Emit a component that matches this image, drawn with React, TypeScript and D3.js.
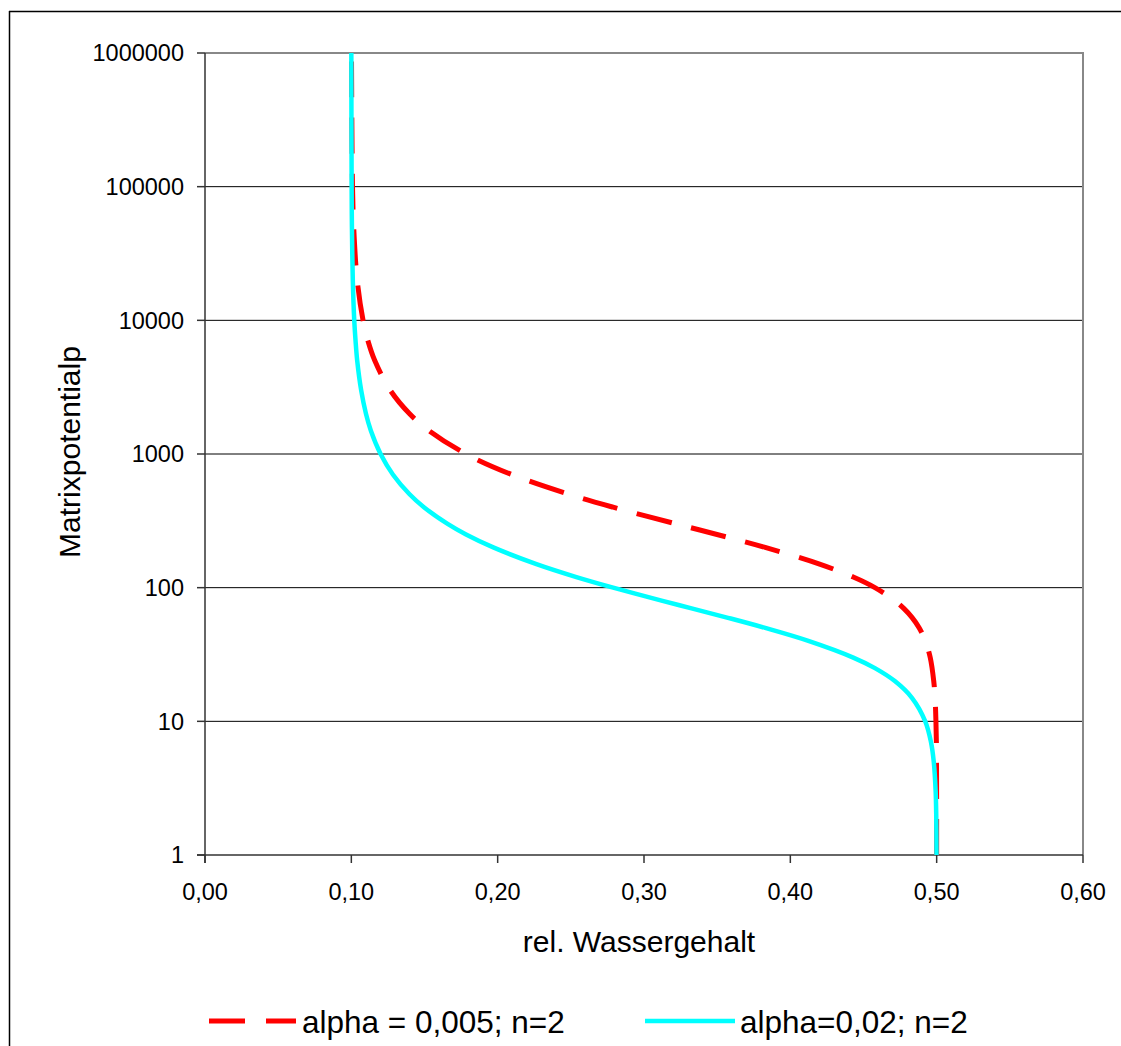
import React from "react";
import * as d3 from "d3";

const yTicks = [1, 10, 100, 1000, 10000, 100000, 1000000];
const xTicks = [0, 0.1, 0.2, 0.3, 0.4, 0.5, 0.6];

const redLabel = "alpha = 0,005; n=2";
const redH = [1, 2, 3, 5, 7, 10, 15, 20, 30, 40, 50, 60, 70, 80, 100, 120, 150, 200, 250, 300, 400, 500, 700, 1000, 1500, 2000, 3000, 5000, 7000, 10000, 20000, 50000, 100000, 1000000];
const redTheta = [0.5, 0.49998, 0.49996, 0.49988, 0.4998, 0.4995, 0.4989, 0.498, 0.4956, 0.4922, 0.4881, 0.4831, 0.4775, 0.4714, 0.4578, 0.443, 0.42, 0.3828, 0.3499, 0.3219, 0.2789, 0.2486, 0.2099, 0.1784, 0.1529, 0.1398, 0.1266, 0.116, 0.1114, 0.108, 0.104, 0.1016, 0.1008, 0.1001];

const cyanLabel = "alpha=0,02; n=2";
const cyanH = [1, 2, 3, 5, 7, 10, 15, 20, 25, 30, 40, 50, 60, 70, 80, 100, 120, 150, 200, 250, 300, 400, 500, 700, 1000, 1500, 2000, 3000, 5000, 7000, 10000, 20000, 50000, 100000, 1000000];
const cyanTheta = [0.4999, 0.4997, 0.4993, 0.498, 0.4961, 0.4922, 0.4831, 0.4714, 0.4578, 0.443, 0.4123, 0.3828, 0.3561, 0.3325, 0.312, 0.2789, 0.2538, 0.2265, 0.197, 0.1784, 0.1658, 0.1496, 0.1398, 0.1285, 0.12, 0.1133, 0.11, 0.1067, 0.104, 0.1029, 0.102, 0.101, 0.1004, 0.1002, 0.1];

const FONT = "'Liberation Sans', Arial, sans-serif";

export default function App() {
  const left = 205, right = 1083, top = 53, bottom = 855;
  const x = d3.scaleLinear().domain([0, 0.6]).range([left, right]);
  const y = d3.scaleLog().domain([1, 1000000]).range([bottom, top]);
  const line = d3
    .line<[number, number]>()
    .x((d) => x(d[0]))
    .y((d) => y(d[1]))
    .curve(d3.curveCatmullRom.alpha(0.5));
  const redPts: [number, number][] = redH.map((h, i) => [redTheta[i], h]);
  const cyanPts: [number, number][] = cyanH.map((h, i) => [cyanTheta[i], h]);
  const fmtX = (v: number) => v.toFixed(2).replace(".", ",");

  return (
    <svg
      width={1121}
      height={1046}
      style={{ position: "absolute", left: 0, top: 0, background: "#fff" }}
      fontFamily={FONT}
    >
      <rect x={0} y={0} width={1121} height={1046} fill="#fff" />
      {/* outer chart border */}
      <line x1={9.5} y1={11} x2={9.5} y2={1046} stroke="#000" strokeWidth={1.5} />
      <line x1={9} y1={11.5} x2={1121} y2={11.5} stroke="#000" strokeWidth={1.5} />

      {/* gridlines */}
      {yTicks.slice(1, -1).map((t) => (
        <line key={"g" + t} x1={left} x2={right} y1={y(t)} y2={y(t)} stroke="#000" strokeWidth={1} />
      ))}
      {/* plot border top/right gray */}
      <line x1={left} x2={right + 1} y1={top} y2={top} stroke="#888" strokeWidth={2} />
      <line x1={right} x2={right} y1={top} y2={bottom} stroke="#888" strokeWidth={2} />

      {/* axes */}
      <line x1={left} x2={left} y1={top} y2={bottom + 8} stroke="#333" strokeWidth={1.5} />
      <line x1={left - 8} x2={right} y1={bottom} y2={bottom} stroke="#333" strokeWidth={1.5} />
      {yTicks.map((t) => (
        <g key={"y" + t}>
          <line x1={left - 8} x2={left} y1={y(t)} y2={y(t)} stroke="#333" strokeWidth={1.5} />
          <text x={184} y={y(t)} dy="0.35em" textAnchor="end" fontSize={23.5} fill="#000">
            {String(t)}
          </text>
        </g>
      ))}
      {xTicks.map((t) => (
        <g key={"x" + t}>
          <line x1={x(t)} x2={x(t)} y1={bottom} y2={bottom + 8} stroke="#333" strokeWidth={1.5} />
          <text x={x(t)} y={900} textAnchor="middle" fontSize={23.5} fill="#000">
            {fmtX(t)}
          </text>
        </g>
      ))}

      {/* series */}
      <path d={line(redPts) || ""} fill="none" stroke="#ff0000" strokeWidth={5} strokeDasharray="36,20" />
      <path d={line(cyanPts) || ""} fill="none" stroke="#00ffff" strokeWidth={4.5} />

      {/* axis titles */}
      <text x={639} y={952} textAnchor="middle" fontSize={30} fill="#000">
        rel. Wassergehalt
      </text>
      <text
        transform={`translate(80,452) rotate(-90)`}
        textAnchor="middle"
        fontSize={30}
        fill="#000"
      >
        Matrixpotentialp
      </text>

      {/* legend */}
      <line x1={209} x2={296} y1={1021} y2={1021} stroke="#ff0000" strokeWidth={5} strokeDasharray="36,21" />
      <text x={302} y={1033} fontSize={31.5} fill="#000">
        {redLabel}
      </text>
      <line x1={645} x2={735} y1={1021} y2={1021} stroke="#00ffff" strokeWidth={4.5} />
      <text x={740} y={1033} fontSize={31.5} fill="#000">
        {cyanLabel}
      </text>
    </svg>
  );
}
